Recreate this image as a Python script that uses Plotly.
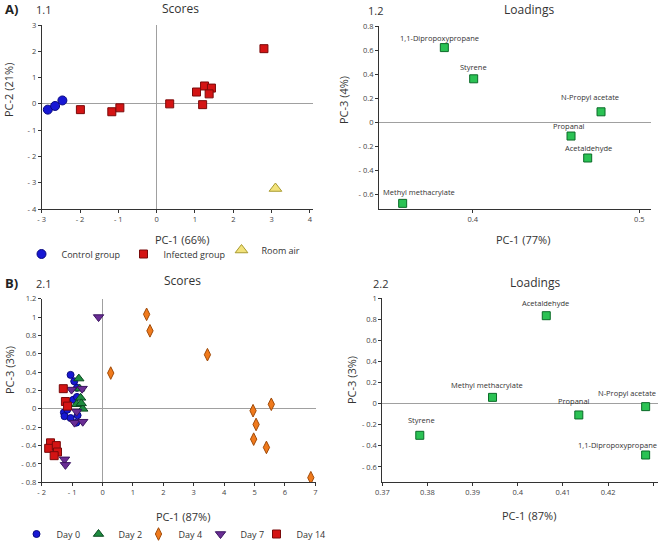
import plotly.graph_objects as go

W, H = 660, 544

# ---------------- Data ----------------
# Panel 1.1 (Scores, PC-1 vs PC-2)
control_pc1 = [-2.84, -2.65, -2.46]
control_pc2 = [-0.22, -0.08, 0.13]
infected_pc1 = [-1.99, -1.17, -0.96, 0.34, 1.04, 1.25, 1.43, 1.37, 1.20, 2.80]
infected_pc2 = [-0.22, -0.30, -0.15, 0.00, 0.45, 0.68, 0.60, 0.38, -0.03, 2.10]
room_pc1 = [3.10]
room_pc2 = [-3.22]

# Panel 1.2 (Loadings, PC-1 vs PC-3)
loadA_names = ["1,1-Dipropoxypropane", "Styrene", "N-Propyl acetate",
               "Propanal", "Acetaldehyde", "Methyl methacrylate"]
loadA_pc1 = [0.383, 0.4006, 0.477, 0.459, 0.469, 0.358]
loadA_pc3 = [0.62, 0.36, 0.085, -0.117, -0.30, -0.678]

# Panel 2.1 (Scores, PC-1 vs PC-3)
day0_pc1 = [-1.05, -0.93, -0.84, -0.96, -0.84, -1.27, -1.25, -1.16, -1.05, -0.82, -0.86]
day0_pc3 = [0.37, 0.30, 0.23, 0.10, 0.13, -0.04, -0.08, -0.01, -0.10, -0.07, -0.15]
day2_pc1 = [-0.78, -0.75, -0.72, -0.85, -0.65, -0.70]
day2_pc3 = [0.33, 0.22, 0.12, 0.05, 0.00, 0.06]
day4_pc1 = [1.45, 1.56, 3.45, 0.27, 4.95, 5.55, 5.05, 4.97, 5.39, 6.85]
day4_pc3 = [1.03, 0.85, 0.59, 0.39, -0.02, 0.05, -0.17, -0.33, -0.42, -0.75]
day7_pc1 = [-0.13, -1.02, -0.67, -0.92, -0.65, -0.85, -1.25, -1.22]
day7_pc3 = [1.00, 0.21, 0.22, -0.15, -0.14, -0.03, -0.55, -0.61]
day14_pc1 = [-1.29, -1.22, -1.15, -1.71, -1.77, -1.52, -1.48, -1.59]
day14_pc3 = [0.22, 0.08, 0.03, -0.37, -0.43, -0.40, -0.47, -0.51]

# Panel 2.2 (Loadings, PC-1 vs PC-3)
loadB_names = ["Acetaldehyde", "Methyl methacrylate", "Propanal",
               "N-Propyl acetate", "1,1-Dipropoxypropane", "Styrene"]
loadB_pc1 = [0.4063, 0.3944, 0.4135, 0.4283, 0.4283, 0.3783]
loadB_pc3 = [0.835, 0.06, -0.107, -0.028, -0.487, -0.30]

# Tick values / labels
a_score_xticks = [-3, -2, -1, 0, 1, 2, 3, 4]
a_score_xlabels = ["- 3", "- 2", "- 1", "0", "1", "2", "3", "4"]
a_score_yticks = [-4, -3, -2, -1, 0, 1, 2, 3]
a_score_ylabels = ["- 4", "- 3", "- 2", "- 1", "0", "1", "2", "3"]
a_load_xticks = [0.4, 0.5]
a_load_xlabels = ["0.4", "0.5"]
a_load_yticks = [-0.6, -0.4, -0.2, 0, 0.2, 0.4, 0.6, 0.8]
a_load_ylabels = ["- 0.6", "- 0.4", "- 0.2", "0", "0.2", "0.4", "0.6", "0.8"]
b_score_xticks = [-2, -1, 0, 1, 2, 3, 4, 5, 6, 7]
b_score_xlabels = ["- 2", "- 1", "0", "1", "2", "3", "4", "5", "6", "7"]
b_score_yticks = [-0.8, -0.6, -0.4, -0.2, 0, 0.2, 0.4, 0.6, 0.8, 1, 1.2]
b_score_ylabels = ["- 0.8", "- 0.6", "- 0.4", "- 0.2", "0", "0.2", "0.4", "0.6", "0.8", "1", "1.2"]
b_load_xticks = [0.37, 0.38, 0.39, 0.40, 0.41, 0.42, 0.43]
b_load_xlabels = ["0.37", "0.38", "0.39", "0.4", "0.41", "0.42", "0.43"]
b_load_yticks = [-0.6, -0.4, -0.2, 0, 0.2, 0.4, 0.6, 0.8, 1]
b_load_ylabels = ["- 0.6", "- 0.4", "- 0.2", "0", "0.2", "0.4", "0.6", "0.8", "1"]

# ---------------- Styling helpers ----------------
FONT = "Open Sans, Noto Sans, sans-serif"
TXT = "#333333"


def px_x(p):
    return p / W


def px_y(p):
    return 1 - p / H


fig = go.Figure()


def mk(symbol, size, fill, edge):
    return dict(symbol=symbol, size=size, color=fill, line=dict(color=edge, width=1))


# Panel 1.1
fig.add_trace(go.Scatter(x=control_pc1, y=control_pc2, mode="markers", name="Control group",
                         marker=mk("circle", 9, "#1717d4", "#0a0a80"),
                         xaxis="x", yaxis="y", legend="legend"))
fig.add_trace(go.Scatter(x=infected_pc1, y=infected_pc2, mode="markers", name="Infected group",
                         marker=mk("square", 8, "#d41414", "#7a0a0a"),
                         xaxis="x", yaxis="y", legend="legend2"))
fig.add_trace(go.Scatter(x=room_pc1, y=room_pc2, mode="markers", name="Room air",
                         marker=mk("triangle-up", 11, "#f2e27a", "#a89a30"),
                         xaxis="x", yaxis="y", legend="legend3"))

# Panel 1.2
fig.add_trace(go.Scatter(x=loadA_pc1, y=loadA_pc3, mode="markers", showlegend=False,
                         marker=mk("square", 8, "#2bc254", "#0b6a28"),
                         xaxis="x2", yaxis="y2"))

# Panel 2.1
fig.add_trace(go.Scatter(x=day0_pc1, y=day0_pc3, mode="markers", name="Day 0",
                         marker=mk("circle", 7, "#1717d4", "#0a0a80"),
                         xaxis="x3", yaxis="y3", legend="legend4"))
fig.add_trace(go.Scatter(x=day2_pc1, y=day2_pc3, mode="markers", name="Day 2",
                         marker=mk("triangle-up", 9, "#1e8c40", "#0b4a20"),
                         xaxis="x3", yaxis="y3", legend="legend5"))
fig.add_trace(go.Scatter(x=day4_pc1, y=day4_pc3, mode="markers", name="Day 4",
                         marker=mk("diamond-tall", 9, "#f07a1c", "#a04a08"),
                         xaxis="x3", yaxis="y3", legend="legend6"))
fig.add_trace(go.Scatter(x=day7_pc1, y=day7_pc3, mode="markers", name="Day 7",
                         marker=mk("triangle-down", 9, "#6a2d94", "#3a1460"),
                         xaxis="x3", yaxis="y3", legend="legend7"))
fig.add_trace(go.Scatter(x=day14_pc1, y=day14_pc3, mode="markers", name="Day 14",
                         marker=mk("square", 8, "#d41414", "#7a0a0a"),
                         xaxis="x3", yaxis="y3", legend="legend8"))

# Panel 2.2
fig.add_trace(go.Scatter(x=loadB_pc1, y=loadB_pc3, mode="markers", showlegend=False,
                         marker=mk("square", 8, "#2bc254", "#0b6a28"),
                         xaxis="x4", yaxis="y4"))

# ---------------- Axes ----------------
def axis(domain, rng, tickvals, ticktext, anchor, zeroline):
    return dict(domain=domain, range=rng, tickvals=tickvals, ticktext=ticktext,
                anchor=anchor, showgrid=False, zeroline=zeroline, automargin=False,
                zerolinecolor="#a0a0a0", zerolinewidth=1,
                showline=True, linecolor="#333333", linewidth=1,
                ticks="outside", ticklen=3, tickcolor="#333333",
                tickfont=dict(size=7.5, color="#444444", family=FONT),
                fixedrange=True)


layout = dict(
    width=W, height=H, margin=dict(l=0, r=0, t=0, b=0, autoexpand=False),
    paper_bgcolor="white", plot_bgcolor="white",
    font=dict(family=FONT, color=TXT),
    hovermode=False,
    xaxis=axis([px_x(41.7), px_x(313)], [-3, 4.08], a_score_xticks, a_score_xlabels, "y", True),
    yaxis=axis([px_y(209), px_y(25)], [-4, 3], a_score_yticks, a_score_ylabels, "x", True),
    xaxis2=axis([px_x(379), px_x(650.7)], [0.3438, 0.5068], a_load_xticks, a_load_xlabels, "y2", False),
    yaxis2=axis([px_y(209.3), px_y(26)], [-0.7275, 0.8], a_load_yticks, a_load_ylabels, "x2", True),
    xaxis3=axis([px_x(41.7), px_x(316)], [-2, 7.02], b_score_xticks, b_score_xlabels, "y3", True),
    yaxis3=axis([px_y(482.3), px_y(298.7)], [-0.8, 1.2], b_score_yticks, b_score_ylabels, "x3", True),
    xaxis4=axis([px_x(382.3), px_x(658.3)], [0.37, 0.4311], b_load_xticks, b_load_xlabels, "y4", False),
    yaxis4=axis([px_y(482.3), px_y(298.3)], [-0.746, 1.0], b_load_yticks, b_load_ylabels, "x4", True),
)


# Legends (one per entry for precise placement); the symbol sits ~21px right of
# the legend's left edge and the text ~40px.
def leg(xc, yc):
    return dict(x=px_x(xc - 5.5 - 21), y=px_y(yc), xanchor="left", yanchor="middle",
                bgcolor="rgba(0,0,0,0)", borderwidth=0,
                font=dict(size=9, color=TXT, family=FONT),
                itemclick=False, itemdoubleclick=False)


layout["legend"] = leg(48, 254)
layout["legend2"] = leg(150, 254)
layout["legend3"] = leg(248, 250)
layout["legend4"] = leg(43, 534)
layout["legend5"] = leg(105, 534)
layout["legend6"] = leg(165, 534)
layout["legend7"] = leg(227, 534)
layout["legend8"] = leg(283, 534)

fig.update_layout(**layout)

# ---------------- Annotations ----------------
anns = []


def text(x, y, s, size, bold=False, angle=0, xanchor="center"):
    anns.append(dict(x=px_x(x), y=px_y(y), xref="paper", yref="paper", text=("<b>%s</b>" % s if bold else s),
                     showarrow=False, textangle=angle, xanchor=xanchor, yanchor="middle",
                     font=dict(size=size, color="#222222" if bold else TXT, family=FONT)))


# panel labels & titles
text(3, 9.5, "A)", 13, bold=True, xanchor="left")
text(34, 9.5, "1.1", 11, xanchor="left")
text(180, 8.5, "Scores", 12)
text(366, 10, "1.2", 11, xanchor="left")
text(529, 9.5, "Loadings", 12)
text(3, 283, "B)", 13, bold=True, xanchor="left")
text(34, 283, "2.1", 11, xanchor="left")
text(182, 280, "Scores", 12)
text(371, 283, "2.2", 11, xanchor="left")
text(535, 282, "Loadings", 12)

# axis titles
text(181.7, 239, "PC-1 (66%)", 11)
text(9, 90, "PC-2 (21%)", 11, angle=-90)
text(523, 239, "PC-1 (77%)", 11)
text(343, 100, "PC-3 (4%)", 11, angle=-90)
text(183, 516.5, "PC-1 (87%)", 11)
text(9, 370, "PC-3 (3%)", 11, angle=-90)
text(529, 515, "PC-1 (87%)", 11)
text(351, 380, "PC-3 (3%)", 11, angle=-90)

# loading labels (pixel offsets from their markers)
shiftA = [(-5, 10), (0, 12), (-11, 15), (-2.5, 10), (1, 10.5), (16, 11.5)]
for n, xv, yv, (dx, dy) in zip(loadA_names, loadA_pc1, loadA_pc3, shiftA):
    anns.append(dict(x=xv, y=yv, xref="x2", yref="y2", text=n, showarrow=False,
                     xshift=dx, yshift=dy, xanchor="center", yanchor="middle",
                     font=dict(size=7.5, color=TXT, family=FONT)))

shiftB = [(-1, 12.4), (-5.6, 12), (-4.7, 14.3), (-19, 13.4), (-27.7, 10), (1.7, 15.7)]
for n, xv, yv, (dx, dy) in zip(loadB_names, loadB_pc1, loadB_pc3, shiftB):
    anns.append(dict(x=xv, y=yv, xref="x4", yref="y4", text=n, showarrow=False,
                     xshift=dx, yshift=dy, xanchor="center", yanchor="middle",
                     font=dict(size=7.5, color=TXT, family=FONT)))

fig.update_layout(annotations=anns)

# remove the default page margin so the figure sits at the window origin
fig.write_html("out.html",
               config={"displayModeBar": False, "staticPlot": True},
               post_script="document.body.style.margin='0';document.body.style.overflow='hidden';")
